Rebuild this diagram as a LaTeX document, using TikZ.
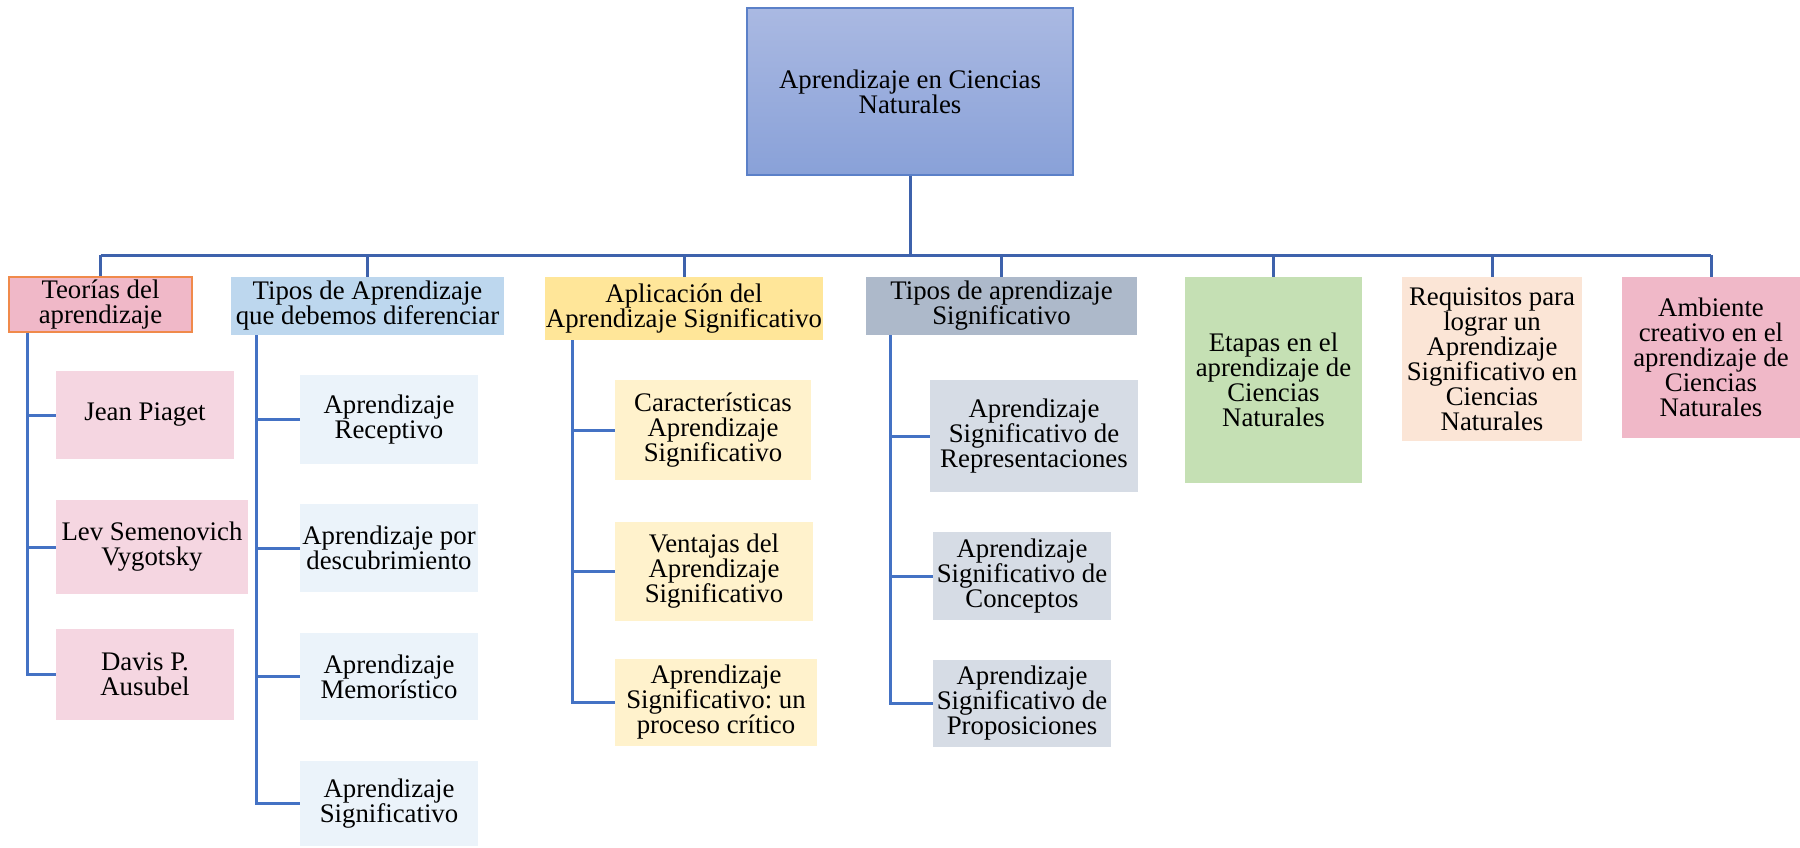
\documentclass[tikz,border=0pt]{standalone}
\usepackage{fontspec}
\setmainfont{Liberation Serif}
\usetikzlibrary{shapes,calc}
\definecolor{linkblue}{HTML}{4472C4}
\definecolor{trunkblue}{HTML}{3E62AC}
\definecolor{rootline}{HTML}{5B80C8}
\definecolor{roottop}{HTML}{AAB9E2}
\definecolor{rootbot}{HTML}{89A1D8}
\definecolor{pinkhead}{HTML}{F0B8C8}
\definecolor{pinksub}{HTML}{F5D6E1}
\definecolor{orangeline}{HTML}{F08A4B}
\definecolor{bluehead}{HTML}{BDD7EE}
\definecolor{bluesub}{HTML}{EBF3FA}
\definecolor{goldhead}{HTML}{FFE699}
\definecolor{goldsub}{HTML}{FFF2CC}
\definecolor{greyhead}{HTML}{ADB9CA}
\definecolor{greysub}{HTML}{D6DCE5}
\definecolor{greenhead}{HTML}{C5E0B4}
\definecolor{peachhead}{HTML}{FBE5D6}
\setlength{\lineskiplimit}{-30pt}
\frenchspacing
\begin{document}
\begin{tikzpicture}[x=1pt,y=-1pt]
	\tikzstyle{bnode}=[rectangle, align=center, inner sep=0pt, font=\fontsize{26.8}{25}\selectfont]
	\tikzstyle{trunk}=[draw=trunkblue, line width=3pt]
	\tikzstyle{link}=[draw=linkblue, line width=3pt]
	\useasboundingbox (0,0) rectangle (1800,847);
	\node[bnode, draw=rootline, line width=1.5pt, top color=roottop, bottom color=rootbot, minimum width=326pt, minimum height=167pt] (root) at (910,91.5) {Aprendizaje en Ciencias\\Naturales};
	\node[bnode, fill=pinkhead, draw=orangeline, line width=1.5pt, minimum width=183pt, minimum height=55pt] (teorias) at (100.5,304.5) {Teorías del\\aprendizaje};
	\node[bnode, fill=bluehead, minimum width=273pt, minimum height=58pt] (tipos) at (367.5,306) {Tipos de Aprendizaje\\que debemos diferenciar};
	\node[bnode, fill=goldhead, minimum width=278pt, minimum height=63pt] (aplic) at (684,308.5) {Aplicación del\\Aprendizaje Significativo};
	\node[bnode, fill=greyhead, minimum width=271pt, minimum height=58pt] (tiposs) at (1001.5,306) {Tipos de aprendizaje\\Significativo};
	\node[bnode, fill=greenhead, minimum width=177pt, minimum height=206pt] (etapas) at (1273.5,380) {Etapas en el\\aprendizaje de\\Ciencias\\Naturales};
	\node[bnode, fill=peachhead, minimum width=180pt, minimum height=164pt] (requisitos) at (1492,359) {Requisitos para\\lograr un\\Aprendizaje\\Significativo en\\Ciencias\\Naturales};
	\node[bnode, fill=pinkhead, minimum width=178pt, minimum height=161pt] (ambiente) at (1711,357.5) {Ambiente\\creativo en el\\aprendizaje de\\Ciencias\\Naturales};
	\node[bnode, fill=pinksub, minimum width=178pt, minimum height=88pt] (piaget) at (145,415) {Jean Piaget};
	\node[bnode, fill=pinksub, minimum width=192pt, minimum height=94pt] (vygotsky) at (152,547) {Lev Semenovich\\Vygotsky};
	\node[bnode, fill=pinksub, minimum width=178pt, minimum height=91pt] (ausubel) at (145,674.5) {Davis P.\\Ausubel};
	\node[bnode, fill=bluesub, minimum width=178pt, minimum height=89pt] (receptivo) at (389,419.5) {Aprendizaje\\Receptivo};
	\node[bnode, fill=bluesub, minimum width=178pt, minimum height=88pt] (descubrimiento) at (389,548) {Aprendizaje por\\descubrimiento};
	\node[bnode, fill=bluesub, minimum width=178pt, minimum height=87pt] (memoristico) at (389,676.5) {Aprendizaje\\Memorístico};
	\node[bnode, fill=bluesub, minimum width=178pt, minimum height=85pt] (significativo) at (389,803.5) {Aprendizaje\\Significativo};
	\node[bnode, fill=goldsub, minimum width=196pt, minimum height=100pt] (caracteristicas) at (713,430) {Características\\Aprendizaje\\Significativo};
	\node[bnode, fill=goldsub, minimum width=198pt, minimum height=99pt] (ventajas) at (714,571.5) {Ventajas del\\Aprendizaje\\Significativo};
	\node[bnode, fill=goldsub, minimum width=202pt, minimum height=87pt] (proceso) at (716,702.5) {Aprendizaje\\Significativo: un\\proceso crítico};
	\node[bnode, fill=greysub, minimum width=208pt, minimum height=112pt] (representaciones) at (1034,436) {Aprendizaje\\Significativo de\\Representaciones};
	\node[bnode, fill=greysub, minimum width=178pt, minimum height=88pt] (conceptos) at (1022,576) {Aprendizaje\\Significativo de\\Conceptos};
	\node[bnode, fill=greysub, minimum width=178pt, minimum height=87pt] (proposiciones) at (1022,703.5) {Aprendizaje\\Significativo de\\Proposiciones};
	\coordinate (bar) at (910,255);
	\draw[trunk] (root.south) -- (bar);
	\draw[trunk] (teorias.north |- bar) -- (ambiente.north |- bar);
	\foreach \n in {teorias,tipos,aplic,tiposs,etapas,requisitos,ambiente}
		\draw[trunk] (\n.north |- bar) -- (\n.north);
	\foreach \n in {piaget,vygotsky,ausubel}
		\draw[link] ([xshift=19pt]teorias.south west) |- (\n.west);
	\foreach \n in {receptivo,descubrimiento,memoristico,significativo}
		\draw[link] ([xshift=26pt]tipos.south west) |- (\n.west);
	\foreach \n in {caracteristicas,ventajas,proceso}
		\draw[link] ([xshift=28pt]aplic.south west) |- (\n.west);
	\foreach \n in {representaciones,conceptos,proposiciones}
		\draw[link] ([xshift=25pt]tiposs.south west) |- (\n.west);
\end{tikzpicture}
\end{document}
